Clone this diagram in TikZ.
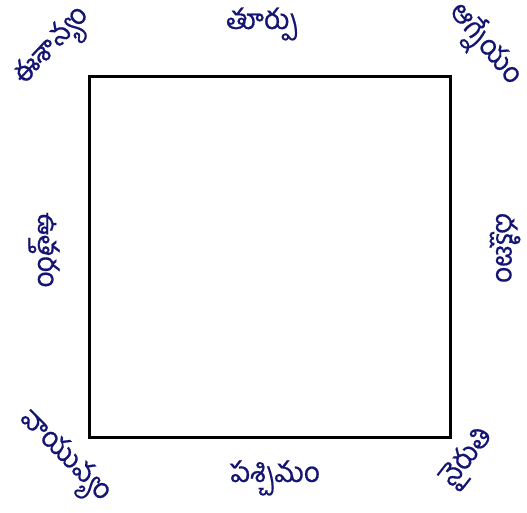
\documentclass[tikz,border=0pt]{standalone}
\usepackage{fontspec}
\newfontfamily\telugu[Script=Telugu,FakeBold=0.6]{Hind Guntur}
\definecolor{ink}{rgb}{0.08,0.08,0.45}
\begin{document}
\begin{tikzpicture}[x=1pt,y=-1pt,
  lbl/.style={font=\telugu\fontsize{28}{32}\selectfont, text=ink, inner sep=0pt}]
\useasboundingbox (0,0) rectangle (527,512);
\node[draw=black, line width=2.6pt, minimum width=361pt, minimum height=361pt, inner sep=0pt, anchor=north west] (sq) at (88,75) {};
\node[lbl] (east) at (262,24) {తూర్పు};
\node[lbl, rotate=47] (ne) at (54,48) {ఈశాన్యం};
\node[lbl, rotate=-50] (se) at (484,45) {ఆగ్నేయం};
\node[lbl, rotate=-90] (north) at (44,250) {ఉత్తరం};
\node[lbl, rotate=-90] (south) at (505,248) {దక్షిణం};
\node[lbl, rotate=-45] (nw) at (63,458) {వాయువ్యం};
\node[lbl] (west) at (275,478) {పశ్చిమం};
\node[lbl, rotate=52] (sw) at (468,458) {నైరుతి};
\end{tikzpicture}
\end{document}
